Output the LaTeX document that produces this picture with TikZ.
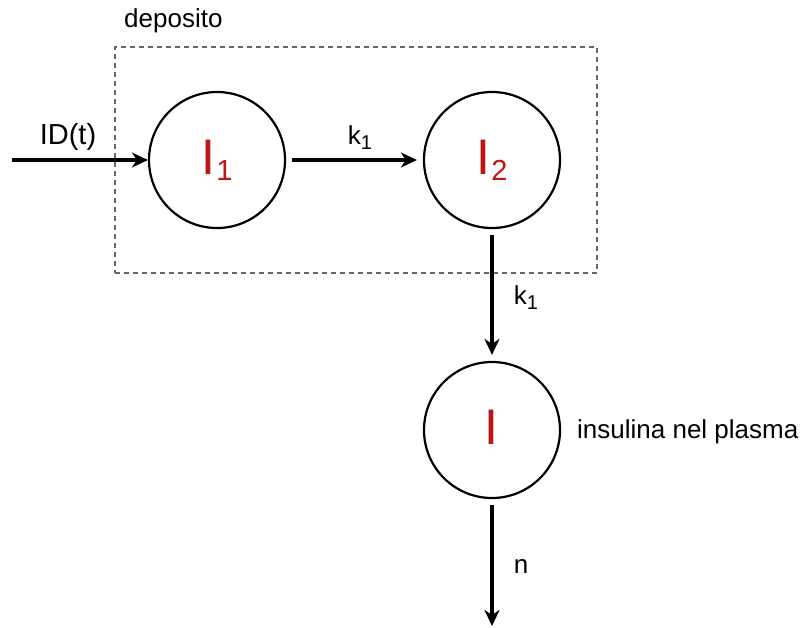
\documentclass[tikz,border=0pt]{standalone}
\usepackage{fontspec}
\setmainfont{Liberation Sans}
\usetikzlibrary{arrows.meta}
\definecolor{myred}{RGB}{190,22,22}
\newcommand{\bigI}[1]{{\fontsize{50}{50}\selectfont\textcolor{myred}{I\kern1pt\raisebox{-6pt}{\fontsize{29}{29}\selectfont #1}}}}
\newcommand{\kone}{k\raisebox{-5pt}{\fontsize{20}{20}\selectfont 1}}
\begin{document}
\begin{tikzpicture}[x=1pt,y=-1pt,
  comp/.style={circle,draw,line width=2.2pt,minimum size=136pt,inner sep=0pt},
  flow/.style={line width=3.2pt,-{Stealth[length=16pt,width=15pt,inset=5pt]}},
  lbl/.style={font=\fontsize{26}{26}\selectfont,inner sep=0pt},
  box/.style={draw=black!60,line width=1.4pt,dash pattern=on 5pt off 4pt}]
\useasboundingbox (0,0) rectangle (806,627);
\node[box,minimum width=482pt,minimum height=226pt,inner sep=0pt] (dep) at (356,160) {};
\node[lbl,anchor=west] (deplbl) at (124,21) {deposito};
\node[comp] (I1) at (217,160) {\bigI{1}};
\node[comp] (I2) at (492,160) {\bigI{2}};
\node[comp] (I) at (492,430) {\bigI{}};
\coordinate (in) at (12,160);
\coordinate (out) at (492,626);
\draw[flow] (in) -- (I1.west);
\node[lbl,font=\fontsize{29}{29}\selectfont] (idt) at (68,137) {ID(t)};
\draw[flow,shorten <=6pt,shorten >=6pt] (I1.east) -- (I2.west);
\node[lbl] (k1a) at (360,138) {\kone};
\draw[flow,shorten <=6pt,shorten >=6pt] (I2.south) -- (I.north);
\node[lbl] (k1b) at (526,298) {\kone};
\draw[flow,shorten <=6pt] (I.south) -- (out);
\node[lbl] (n) at (521,566) {n};
\node[lbl,anchor=west] (plasma) at (577,432) {insulina nel plasma};
\end{tikzpicture}
\end{document}
